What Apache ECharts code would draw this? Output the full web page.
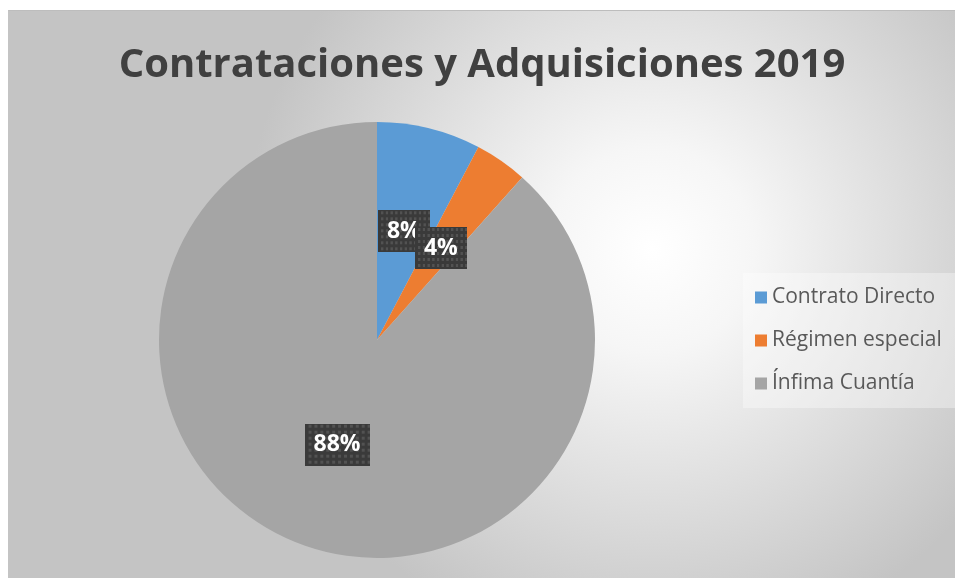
<!DOCTYPE html>
<html>
<head>
<meta charset="utf-8">
<script src="https://cdn.jsdelivr.net/npm/echarts@6/dist/echarts.min.js"></script>
<style>
  html, body { margin: 0; padding: 0; background: #fff; }
  #chart { position: absolute; left: 8px; top: 10px; width: 947px; height: 568px; border-top: 1px solid #bdbdbd; border-left: 1px solid #c4c4c4; box-sizing: border-box; }
</style>
</head>
<body>
<div id="chart"></div>
<script>
var titleText = 'Contrataciones y Adquisiciones 2019';
var categories = ['Contrato Directo', 'Régimen especial', 'Ínfima Cuantía'];
var values = [7.7, 3.9, 88.4];
var colors = ['#5b9bd5', '#ed7d31', '#a5a5a5'];

// dark dotted texture for the data labels
function labelTexture() {
    var c = document.createElement('canvas');
    c.width = 66; c.height = 42;
    var ctx = c.getContext('2d');
    ctx.fillStyle = '#3a3a3a';
    ctx.fillRect(0, 0, c.width, c.height);
    ctx.fillStyle = '#525252';
    for (var y = 1; y < c.height; y += 6) {
        for (var x = ((y / 6) % 2 ? 4 : 1); x < c.width; x += 6) {
            ctx.fillRect(x, y, 3, 3);
        }
    }
    return c;
}
var tex = labelTexture();

var chart = echarts.init(document.getElementById('chart'));

var data = [];
for (var i = 0; i < categories.length; i++) {
    data.push({ name: categories[i], value: values[i] });
}

option = {
    backgroundColor: {
        type: 'radial', x: 0.68, y: 0.42, r: 0.72,
        colorStops: [
            { offset: 0, color: '#ffffff' },
            { offset: 0.25, color: '#f6f6f6' },
            { offset: 1, color: '#c4c4c4' }
        ]
    },
    color: colors,
    title: {
        text: titleText,
        left: 'center',
        top: 30,
        textStyle: {
            fontFamily: 'Open Sans',
            fontWeight: 'bold',
            fontSize: 40,
            color: '#404040'
        }
    },
    legend: {
        orient: 'vertical',
        left: 734,
        top: 262,
        itemWidth: 12,
        itemHeight: 12,
        itemGap: 22,
        padding: [14, 40, 14, 12],
        backgroundColor: 'rgba(255,255,255,0.35)',
        icon: 'rect',
        textStyle: {
            fontFamily: 'Open Sans',
            fontSize: 21,
            color: '#595959'
        },
        data: categories
    },
    series: [{
        type: 'pie',
        center: [368, 329],
        radius: 218,
        startAngle: 90,
        clockwise: true,
        avoidLabelOverlap: false,
        animation: false,
        itemStyle: { borderWidth: 0 },
        labelLayout: { hideOverlap: false },
        label: {
            position: 'inside',
            formatter: function (p) { return Math.round(p.percent) + '%'; },
            color: '#ffffff',
            fontFamily: 'Open Sans',
            fontWeight: 'bold',
            fontSize: 23,
            lineHeight: 25,
            padding: [9, 9, 8, 9],
            backgroundColor: { image: tex },
            shadowColor: 'rgba(0,0,0,0.45)',
            shadowBlur: 8,
            shadowOffsetX: 4,
            shadowOffsetY: 5
        },
        labelLine: { show: false },
        data: data
    }]
};

chart.setOption(option);
</script>
</body>
</html>
